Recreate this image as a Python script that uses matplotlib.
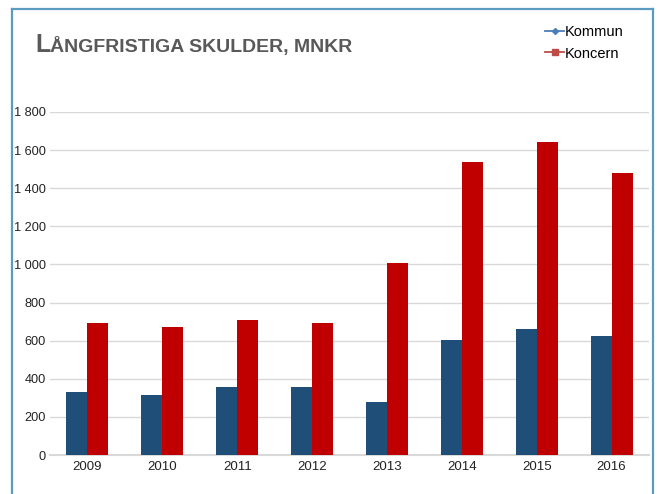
import matplotlib.pyplot as plt
import numpy as np
from matplotlib.lines import Line2D

plt.rcParams['font.family'] = ['Liberation Sans', 'DejaVu Sans']

# === DATA ===
years = ["2009", "2010", "2011", "2012", "2013", "2014", "2015", "2016"]
kommun = [329, 316, 358, 358, 278, 605, 663, 623]
koncern = [694, 672, 708, 694, 1005, 1538, 1643, 1480]
y_ticks = [0, 200, 400, 600, 800, 1000, 1200, 1400, 1600, 1800]
y_labels = ["0", "200", "400", "600", "800", "1 000", "1 200", "1 400", "1 600", "1 800"]

W, H = 657, 494
fig = plt.figure(figsize=(W / 100, H / 100), dpi=100)
fig.patch.set_facecolor("white")

# plot area in pixel coords -> figure fractions
left, right, bottom, top = 50, 649, 455, 112
ax = fig.add_axes([left / W, 1 - bottom / H, (right - left) / W, (bottom - top) / H])

x = np.arange(len(years))
bw = 0.28
ax.bar(x - bw / 2, kommun, width=bw, color="#1f4e79", zorder=3)
ax.bar(x + bw / 2, koncern, width=bw, color="#c00000", zorder=3)

ax.set_xlim(-0.5, len(years) - 0.5)
ax.set_ylim(0, 1800)
ax.set_yticks(y_ticks)
ax.set_yticklabels(y_labels)
ax.set_xticks(x)
ax.set_xticklabels(years)
ax.tick_params(axis="x", length=0, labelsize=9.5, colors="#222222", pad=4)
ax.tick_params(axis="y", length=0, labelsize=9.2, colors="#222222", pad=3)
ax.grid(axis="y", color="#d9d9d9", linewidth=1, zorder=0)
for s in ["top", "right", "left"]:
    ax.spines[s].set_visible(False)
ax.spines["bottom"].set_color("#d9d9d9")
ax.spines["bottom"].set_linewidth(1.5)

# title in small caps style
fig.text(35 / W, 1 - 45 / H, "L", fontsize=18, fontweight="bold", color="#595959",
         va="center", ha="left")
fig.text(50 / W, 1 - 46.5 / H, "ÅNGFRISTIGA SKULDER, MNKR", fontsize=14, fontweight="bold",
         color="#595959", va="center", ha="left")

# legend
handles = [
    Line2D([], [], color="#4a7ebb", marker="D", markersize=3, linewidth=1.3),
    Line2D([], [], color="#be4b48", marker="s", markersize=4, linewidth=1.3),
]
fig.legend(handles, ["Kommun", "Koncern"], loc="upper left",
           bbox_to_anchor=(538 / W, 1 - 18 / H), frameon=False, fontsize=10.5,
           handlelength=1.3, handletextpad=0.05, labelspacing=0.5, borderpad=0)

# frame border (top, left, right)
bc = "#5b9bbf"
fig.add_artist(Line2D([11.5 / W, 653 / W], [1 - 9 / H, 1 - 9 / H], color=bc, linewidth=1.6))
fig.add_artist(Line2D([11.5 / W, 11.5 / W], [1 - 9 / H, 0], color=bc, linewidth=1.6))
fig.add_artist(Line2D([653 / W, 653 / W], [1 - 9 / H, 0], color=bc, linewidth=1.6))

plt.savefig("out.png", dpi=100)
